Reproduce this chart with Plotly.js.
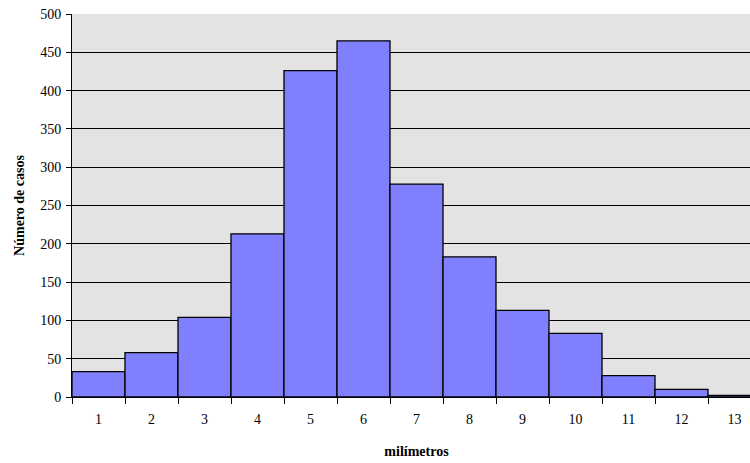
<!DOCTYPE html>
<html><head><meta charset="utf-8">
<script src="https://cdn.plot.ly/plotly-3.0.1.min.js"></script>
<style>html,body{margin:0;padding:0;overflow:hidden;width:750px;height:463px;background:#fff}</style>
</head><body>
<div id="chart" style="width:761px;height:463px"></div>
<script>
const categories = ["1","2","3","4","5","6","7","8","9","10","11","12","13"];
const casos = [33, 58, 104, 213, 426, 465, 278, 183, 113, 83, 28, 10, 2];
const yTicks = [0,50,100,150,200,250,300,350,400,450,500];

const font = {family: "Liberation Serif, Times New Roman, serif", size: 14, color: "#000"};

Plotly.newPlot("chart", [{
  type: "bar",
  x: categories,
  y: casos,
  marker: {color: "#8080ff", line: {color: "#000", width: 1.3}},
  width: 1
}], {
  width: 761, height: 463,
  margin: {l: 72, r: 0, t: 14, b: 66},
  paper_bgcolor: "#fff",
  plot_bgcolor: "#e3e3e3",
  font: font,
  bargap: 0,
  showlegend: false,
  xaxis: {
    type: "category",
    tickson: "boundaries",
    ticks: "outside", ticklen: 6, tickcolor: "#000", tickwidth: 1,
    ticklabelstandoff: 9,
    showline: true, linecolor: "#000", linewidth: 1,
    showgrid: false,
    tickfont: font,
    title: {text: "<b>milímetros</b>", font: font, standoff: 20}
  },
  yaxis: {
    range: [0, 500],
    tickvals: yTicks,
    ticks: "outside", ticklen: 5, tickcolor: "#000", tickwidth: 1,
    ticklabelstandoff: 2,
    showline: true, linecolor: "#000", linewidth: 1,
    showgrid: true, gridcolor: "#000", gridwidth: 1,
    zeroline: false,
    tickfont: font,
    title: {text: "<b>Número de casos</b>", font: font, standoff: 12}
  }
}, {staticPlot: true});
</script>
</body></html>
